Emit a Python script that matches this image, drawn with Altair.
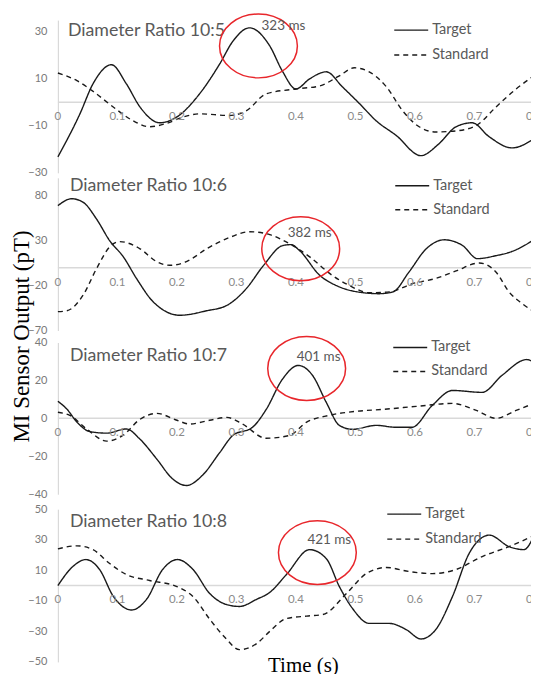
import altair as alt
import pandas as pd

SERIES = ["Target", "Standard"]
PANEL_TITLES = ["Diameter Ratio 10:5", "Diameter Ratio 10:6", "Diameter Ratio 10:7", "Diameter Ratio 10:8"]
PEAK_LABELS = ["323 ms", "382 ms", "401 ms", "421 ms"]

X_TICKS = [0, 0.1, 0.2, 0.3, 0.4, 0.5, 0.6, 0.7, 0.8]
X_TICK_LABELS = ["0", "0.1", "0.2", "0.3", "0.4", "0.5", "0.6", "0.7", "0.8"]

Y_TICKS = [[-30, -10, 10, 30], [-70, -20, 30, 80], [-40, -20, 0, 20, 40], [-50, -30, -10, 10, 30, 50]]
Y_DOMAINS = [[-30, 35], [-70, 100], [-40, 40], [-50, 50]]

# Panel 1 (10:5)
P1_TARGET_T = [0, 0.037, 0.059, 0.09, 0.115, 0.138, 0.171, 0.2, 0.238, 0.272, 0.294, 0.322, 0.356, 0.377, 0.4,
               0.423, 0.451, 0.478, 0.507, 0.535, 0.568, 0.61, 0.64, 0.669, 0.696, 0.725, 0.763, 0.8]
P1_TARGET_V = [-23.2, -4.9, 7.9, 16, 7.9, -2, -8.7, -6.2, 3.6, 16.4, 26, 31.7, 24, 13.4, 5.7,
               10, 13, 6.6, -0.6, -7.9, -14, -22.7, -17.7, -10.4, -8.7, -14.7, -19.4, -15.5]
P1_STANDARD_T = [0, 0.032, 0.06, 0.093, 0.126, 0.154, 0.182, 0.21, 0.238, 0.288, 0.317, 0.35, 0.4, 0.44, 0.473,
                 0.498, 0.523, 0.552, 0.579, 0.607, 0.635, 0.674, 0.708, 0.736, 0.77, 0.8]
P1_STANDARD_V = [12.5, 9.2, 4.5, -2, -7.8, -10.4, -9, -6.3, -4.9, -5.6, -3.5, 3.6, 5.7, 7, 11.3,
                 14.7, 13, 6.6, -3.5, -10.4, -12.6, -12, -9, -2, 5.7, 11.3]

# Panel 2 (10:6)
P2_TARGET_T = [0, 0.023, 0.042, 0.065, 0.087, 0.11, 0.132, 0.16, 0.205, 0.25, 0.284, 0.317, 0.345, 0.378, 0.392,
               0.406, 0.44, 0.468, 0.501, 0.54, 0.563, 0.59, 0.619, 0.649, 0.68, 0.705, 0.736, 0.763, 0.8]
P2_TARGET_V = [69, 76.7, 73, 54, 30, 12, -12, -38, -53, -48, -42, -23, 2, 24.6, 25.6,
               19, -8.6, -20, -26.7, -29, -27, -4.8, 21, 31, 24.6, 10, 13.3, 18, 31]
P2_STANDARD_T = [0, 0.015, 0.042, 0.065, 0.087, 0.104, 0.138, 0.166, 0.188, 0.216, 0.25, 0.29, 0.322, 0.356,
                 0.389, 0.423, 0.461, 0.49, 0.523, 0.557, 0.596, 0.635, 0.669, 0.708, 0.736, 0.758, 0.78, 0.8]
P2_STANDARD_V = [-49, -48, -31, -1, 23, 29, 21, 6.7, 2.6, 6.7, 21, 34, 40, 36.7,
                 26.7, 12, -8.6, -20, -28, -27, -17.8, -12, -3.7, 5.2, -4.8, -27, -40, -49]

# Panel 3 (10:7)
P3_TARGET_T = [0, 0.015, 0.032, 0.054, 0.082, 0.115, 0.138, 0.166, 0.193, 0.216, 0.243, 0.272, 0.294, 0.327,
               0.35, 0.377, 0.404, 0.428, 0.451, 0.473, 0.495, 0.535, 0.568, 0.595, 0.629, 0.663, 0.713, 0.746,
               0.788, 0.8]
P3_TARGET_V = [9, 4.9, -2, -7, -7.8, -5.6, -11, -21.4, -32, -35.4, -30, -18, -9, -4.7,
               4.7, 20.5, 27.9, 22.6, 8.4, -3.7, -5.8, -3.7, -4.7, -4.7, 6.8, 14.7, 13.7, 22.6,
               31, 29.5]
P3_STANDARD_T = [0, 0.02, 0.049, 0.082, 0.109, 0.138, 0.166, 0.2, 0.221, 0.255, 0.284, 0.31, 0.35, 0.389,
                 0.418, 0.456, 0.501, 0.545, 0.602, 0.663, 0.703, 0.736, 0.77, 0.8]
P3_STANDARD_V = [3.2, 1.6, -5.8, -12, -9, -0.5, 2.6, -1, -3, -1, 0.5, -3, -10.5, -9,
                 -2, 1.6, 3.7, 4.7, 6.3, 7.9, 4.2, 0, 4.2, 7.9]

# Panel 4 (10:8)
P4_TARGET_T = [0, 0.025, 0.047, 0.07, 0.093, 0.124, 0.149, 0.176, 0.201, 0.227, 0.255, 0.283, 0.305, 0.334,
               0.356, 0.384, 0.423, 0.451, 0.473, 0.495, 0.523, 0.557, 0.585, 0.61, 0.635, 0.663, 0.691,
               0.725, 0.758, 0.783, 0.8]
P4_TARGET_V = [0, 12.4, 17, 10.5, -7, -16, -9, 10.5, 17, 10.5, -5.2, -12.4, -13.7, -9,
               -4.5, 7.2, 23.5, 17.6, -0.7, -15, -24.8, -24.8, -28.8, -35, -28.8, -7.2, 21,
               33, 25.5, 23.5, 32.7]
P4_STANDARD_T = [0, 0.032, 0.059, 0.087, 0.115, 0.154, 0.2, 0.227, 0.255, 0.283, 0.305, 0.334, 0.356, 0.384,
                 0.418, 0.445, 0.485, 0.518, 0.552, 0.59, 0.629, 0.669, 0.713, 0.758, 0.8]
P4_STANDARD_V = [24, 26, 23.5, 14.4, 7.2, 3.3, -0.7, -7.2, -22, -35, -42, -38, -30, -21.6,
                 -20, -19, -5.2, 7.8, 11.8, 9.2, 7.8, 10.5, 19, 25.5, 32.7]

# Annotation anchors (data units): ellipse centre and label centre
ELLIPSE_T = [0.337, 0.408, 0.418, 0.436]
ELLIPSE_V = [24, 21, 26.3, 21.6]
LABEL_T = [0.379, 0.423, 0.438, 0.456]
LABEL_V = [32.5, 38, 32.6, 30]

PANELS = [
    (P1_TARGET_T, P1_TARGET_V, P1_STANDARD_T, P1_STANDARD_V),
    (P2_TARGET_T, P2_TARGET_V, P2_STANDARD_T, P2_STANDARD_V),
    (P3_TARGET_T, P3_TARGET_V, P3_STANDARD_T, P3_STANDARD_V),
    (P4_TARGET_T, P4_TARGET_V, P4_STANDARD_T, P4_STANDARD_V),
]

# layout / style
W = 477
HEIGHTS = [153, 153, 152, 153]
GAPS = [5, 12, 15]
TITLE_POS = [(10, 11), (12, 8), (12, 14), (12, 13)]
LEGEND_POS = [(337, 10, 35), (338, 8, 32), (336, 5, 29), (330, 5, 30)]
SANS = "Lato"
SERIF = "Liberation Serif"
GRAY = "#595959"
LIGHT = "#d9d9d9"
LINE = "#1a1a1a"
RED = "#e8262b"
# ellipse (78 x 64 px once scaled) drawn with cubic Beziers
ELLIPSE_PATH = ("M 1 0 C 1 0.453 0.552 0.82 0 0.82 C -0.552 0.82 -1 0.453 -1 0 "
                "C -1 -0.453 -0.552 -0.82 0 -0.82 C 0.552 -0.82 1 -0.453 1 0 Z")
ELLIPSE_SIZE = 78 * 78
DASH_RANGE = [[1, 0], [5, 4]]


def make_panel(i):
    tt, tv, st, sv = PANELS[i]
    df = pd.concat([
        pd.DataFrame({"t": tt, "v": tv, "series": SERIES[0]}),
        pd.DataFrame({"t": st, "v": sv, "series": SERIES[1]}),
    ])
    xs = alt.Scale(domain=[0, 0.8], nice=False, zero=False)
    ys = alt.Scale(domain=Y_DOMAINS[i], nice=False, zero=False)
    yaxis = alt.Axis(values=Y_TICKS[i], title=None, grid=False, ticks=False, tickSize=0,
                     domainColor=LIGHT, domainWidth=1.2, labelColor="#7a7a7a", labelFontSize=11,
                     labelFont=SANS, labelPadding=11, labelFlush=False, labelOverlap=False)

    zero = alt.Chart(pd.DataFrame({"z": [0]})).mark_rule(color=LIGHT, strokeWidth=1.5).encode(
        y=alt.Y("z:Q", scale=ys, axis=yaxis))

    lines = alt.Chart(df).mark_line(color=LINE, strokeWidth=1.4, interpolate="monotone").encode(
        x=alt.X("t:Q", scale=xs, axis=None),
        y=alt.Y("v:Q", scale=ys, axis=yaxis),
        strokeDash=alt.StrokeDash("series:N", scale=alt.Scale(domain=SERIES, range=DASH_RANGE), legend=None),
        detail="series:N",
    )

    ticks_df = pd.DataFrame({"t": X_TICKS, "lab": X_TICK_LABELS, "z": [0] * len(X_TICKS)})
    xlabels = alt.Chart(ticks_df).mark_text(fontSize=11.5, font=SANS, color="#8a8a8a", dy=15,
                                            baseline="middle").encode(
        x=alt.X("t:Q", scale=xs, axis=None), y=alt.Y("z:Q", scale=ys, axis=yaxis), text="lab:N")

    tx, ty = TITLE_POS[i]
    title = alt.Chart(pd.DataFrame({"s": [PANEL_TITLES[i]]})).mark_text(
        fontSize=17.8, font=SANS, color=GRAY, align="left", baseline="middle").encode(
        x=alt.value(tx), y=alt.value(ty), text="s:N")

    lx, ly1, ly2 = LEGEND_POS[i]
    leg = []
    for s, yy in zip(SERIES, [ly1, ly2]):
        sdf = pd.DataFrame({"s": [s]})
        dash = DASH_RANGE[SERIES.index(s)]
        leg.append(alt.Chart(sdf).mark_rule(color=LINE, strokeWidth=1.4, strokeDash=dash).encode(
            x=alt.value(lx), x2=alt.value(lx + 34), y=alt.value(yy)))
        leg.append(alt.Chart(sdf).mark_text(fontSize=14.5, font=SANS, color=GRAY, align="left",
                                            baseline="middle").encode(
            x=alt.value(lx + 38), y=alt.value(yy), text="s:N"))

    ann_df = pd.DataFrame({"et": [ELLIPSE_T[i]], "ev": [ELLIPSE_V[i]],
                           "lt": [LABEL_T[i]], "lv": [LABEL_V[i]], "lab": [PEAK_LABELS[i]]})
    ellipse = alt.Chart(ann_df).mark_point(shape=ELLIPSE_PATH, size=ELLIPSE_SIZE, filled=False,
                                           color=RED, strokeWidth=1.5, opacity=1).encode(
        x=alt.X("et:Q", scale=xs, axis=None), y=alt.Y("ev:Q", scale=ys, axis=yaxis))
    peak = alt.Chart(ann_df).mark_text(fontSize=13.5, font=SANS, color=GRAY, baseline="middle").encode(
        x=alt.X("lt:Q", scale=xs, axis=None), y=alt.Y("lv:Q", scale=ys, axis=yaxis), text="lab:N")

    layers = [zero, lines, xlabels, title] + leg + [ellipse, peak]

    if i == 1:
        ytitle = alt.Chart(pd.DataFrame({"s": ["MI Sensor Output (pT)"]})).mark_text(
            fontSize=23, font=SERIF, color="#000000", angle=270, align="center", baseline="middle").encode(
            x=alt.value(-36), y=alt.value(159), text="s:N")
        layers.append(ytitle)
    if i == 3:
        xtitle = alt.Chart(pd.DataFrame({"s": ["Time (s)"]})).mark_text(
            fontSize=21, font=SERIF, color="#000000", align="center", baseline="middle").encode(
            x=alt.value(246), y=alt.value(157), text="s:N")
        layers.append(xtitle)

    return alt.layer(*layers).properties(width=W, height=HEIGHTS[i])


def spacer(h):
    return alt.Chart(pd.DataFrame({"a": [0]})).mark_point(opacity=0).encode(
        x=alt.value(0), y=alt.value(0)).properties(width=W, height=h)


p = [make_panel(i) for i in range(4)]
rows = [p[0], spacer(GAPS[0]), p[1], spacer(GAPS[1]), p[2], spacer(GAPS[2]), p[3]]
# the reference is a tight crop: trim the padding so the view is cut at the window edge
chart = alt.vconcat(*rows, spacing=0, bounds="flush").properties(
    padding={"left": 3, "top": 1.5, "right": -12, "bottom": -3}
).configure_view(stroke=None)

chart.save("out.html", embed_options={"renderer": "svg", "actions": False})
